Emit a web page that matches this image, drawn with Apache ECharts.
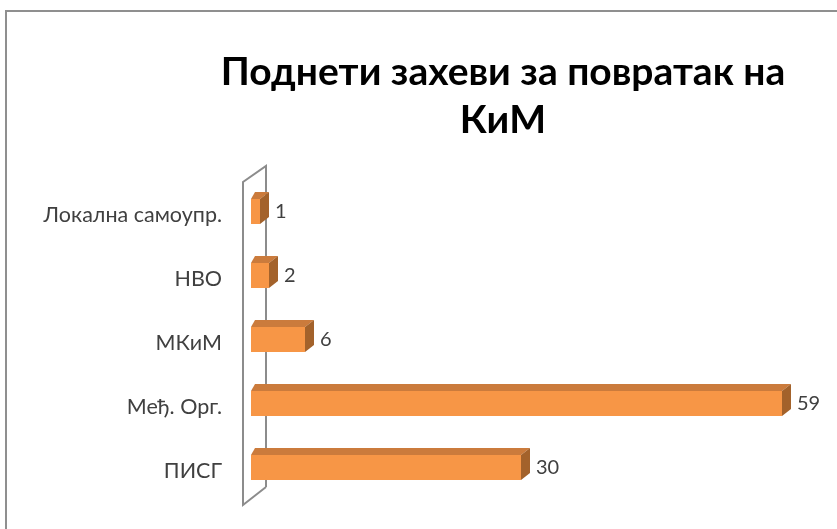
<!DOCTYPE html>
<html>
<head>
<meta charset="utf-8">
<script src="https://cdn.jsdelivr.net/npm/echarts@6/dist/echarts.min.js"></script>
<style>
  html, body { margin: 0; padding: 0; background: #ffffff; }
  #chart { width: 837px; height: 529px; }
</style>
</head>
<body>
<div id="chart"></div>
<script>
// Поднети захеви за повратак на КиМ — број захтева по подносиоцу
const categories = ['Локална самоупр.', 'НВО', 'МКиМ', 'Међ. Орг.', 'ПИСГ'];
const values = [1, 2, 6, 59, 30];
const titleLines = ['Поднети захеви за повратак на', 'КиМ'];

// plot layout
const W = 837, H = 529;
const gridLeft = 251, gridRight = 46, gridTop = 183, gridBottom = 26;
const FONT = 'Lato, "Open Sans", "Noto Sans", sans-serif';

// 3D look of the bars
const DEPTH_X = 9, DEPTH_Y = 7, FRONT_UP = 16, FRONT_DOWN = 9;
const FRONT = '#F79646', TOP = '#CB7B3C', SIDE = '#A3622B';

const chart = echarts.init(document.getElementById('chart'), null, { renderer: 'canvas' });

function renderBar(params, api) {
  const v = api.value(0);
  const i = api.value(1);
  const base = api.coord([0, i]);
  const end = api.coord([v, i]);
  const x0 = base[0], x1 = end[0], cy = end[1];
  const yT = cy - FRONT_UP, yB = cy + FRONT_DOWN;
  return {
    type: 'group',
    children: [
      { type: 'rect', shape: { x: x0, y: yT, width: x1 - x0, height: yB - yT }, style: { fill: FRONT } },
      { type: 'polygon', shape: { points: [[x0, yT], [x0 + 4, yT - DEPTH_Y], [x1 + DEPTH_X, yT - DEPTH_Y], [x1, yT]] }, style: { fill: TOP } },
      { type: 'polygon', shape: { points: [[x1, yT], [x1 + DEPTH_X, yT - DEPTH_Y], [x1 + DEPTH_X, yB - DEPTH_Y], [x1, yB]] }, style: { fill: SIDE } },
      { type: 'text', style: { x: x1 + DEPTH_X + 6, y: (yT + yB) / 2, text: String(v), fill: '#404040', font: '20px ' + FONT, verticalAlign: 'middle', align: 'left' } }
    ]
  };
}

// side wall behind the bars
const wallFrontX = gridLeft - 8, wallBackX = gridLeft + 15;
const wallTop = gridTop - 1, wallBottom = H - gridBottom + 2;

chart.setOption({
  backgroundColor: '#ffffff',
  animation: false,
  title: {
    text: titleLines.join('\n'),
    left: 498,
    textAlign: 'center',
    top: 43,
    textStyle: { fontFamily: FONT, fontWeight: 'bold', fontSize: 39, color: '#000000', lineHeight: 48 }
  },
  grid: { left: gridLeft, right: gridRight, top: gridTop, bottom: gridBottom },
  xAxis: { type: 'value', min: 0, max: 60, show: false },
  yAxis: {
    type: 'category',
    inverse: true,
    data: categories,
    axisLine: { show: false },
    axisTick: { show: false },
    splitLine: { show: false },
    axisLabel: { margin: 29, fontFamily: FONT, fontSize: 21.5, color: '#404040' }
  },
  graphic: [
    { type: 'rect', z: 0, shape: { x: 6, y: 11, width: 900, height: 600 }, style: { fill: 'none', stroke: '#8f8f8f', lineWidth: 2 } },
    { type: 'polyline', z: 0, shape: { points: [[wallBackX, wallBottom - 18], [wallBackX, wallTop - 16], [wallFrontX, wallTop], [wallFrontX, wallBottom], [wallBackX, wallBottom - 18]] }, style: { fill: 'none', stroke: '#8c8c8c', lineWidth: 2 } }
  ],
  series: [{
    type: 'custom',
    z: 5,
    renderItem: renderBar,
    encode: { x: 0, y: 1 },
    data: values.map((v, i) => [v, i])
  }]
});
</script>
</body>
</html>
